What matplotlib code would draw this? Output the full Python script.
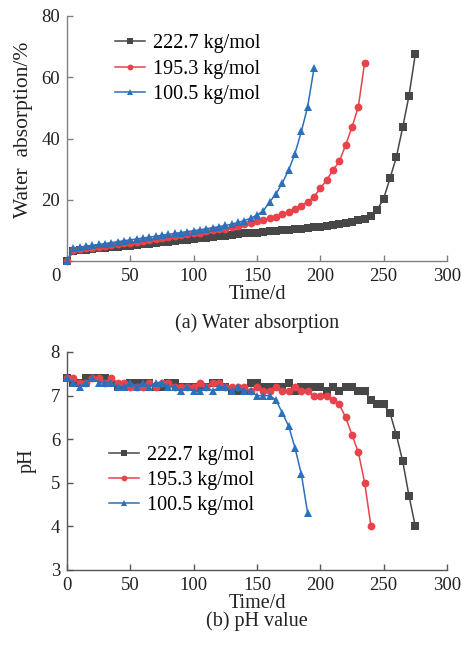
import matplotlib
matplotlib.use("Agg")
import matplotlib.pyplot as plt

plt.rcParams['font.family'] = ['Liberation Serif', 'DejaVu Serif']
plt.rcParams['mathtext.fontset'] = 'stix'

# ---------------- data ----------------
labels = ["222.7 kg/mol", "195.3 kg/mol", "100.5 kg/mol"]
colors = ["#474747", "#e8434b", "#2c6fbb"]
markers = ["s", "o", "^"]

# Water absorption (%)
t_w_222 = list(range(0, 280, 5))
w_222 = [0, 3.2, 3.5, 3.7, 3.9, 4.1, 4.3, 4.5, 4.7, 4.9,
         5.0, 5.2, 5.4, 5.7, 5.9, 6.1, 6.3, 6.5, 6.8, 7.0,
         7.2, 7.4, 7.6, 7.8, 8.1, 8.3, 8.6, 8.8, 9.0, 9.2,
         9.3, 9.5, 9.7, 9.9, 10.1, 10.2, 10.4, 10.6, 10.8, 11.0,
         11.2, 11.4, 11.7, 12.0, 12.4, 12.8, 13.3, 13.8, 14.8, 16.8,
         20.4, 27.0, 33.9, 43.6, 54.0, 67.6]

t_w_195 = list(range(0, 240, 5))
w_195 = [0, 3.6, 3.9, 4.2, 4.4, 4.7, 5.0, 5.2, 5.5, 5.8,
         6.0, 6.3, 6.6, 6.9, 7.2, 7.5, 7.8, 8.1, 8.4, 8.7,
         9.0, 9.3, 9.7, 10.0, 10.3, 10.6, 11.0, 11.4, 12.0, 12.5,
         13.1, 13.4, 13.9, 14.5, 15.2, 15.9, 17.0, 18.0, 19.4, 21.0,
         23.7, 26.5, 29.7, 32.5, 37.9, 43.7, 50.4, 64.8]

t_w_100 = list(range(0, 200, 5))
w_100 = [0, 4.2, 4.5, 4.8, 5.1, 5.4, 5.7, 6.0, 6.3, 6.6,
         6.9, 7.2, 7.5, 7.8, 8.1, 8.4, 8.7, 9.0, 9.3, 9.6,
         9.9, 10.2, 10.5, 10.9, 11.2, 11.6, 12.0, 12.6, 13.2, 14.0,
         15.0, 16.4, 19.3, 21.9, 25.5, 29.7, 35.1, 42.3, 50.4, 62.9]

# pH value
t_p_222 = list(range(0, 280, 5))
p_222 = [7.4, 7.3, 7.3, 7.4, 7.4, 7.4, 7.4, 7.3, 7.2, 7.2,
         7.3, 7.3, 7.3, 7.3, 7.2, 7.2, 7.3, 7.3, 7.2, 7.2,
         7.2, 7.2, 7.2, 7.3, 7.3, 7.2, 7.1, 7.1, 7.1, 7.3,
         7.3, 7.2, 7.2, 7.2, 7.2, 7.3, 7.1, 7.2, 7.2, 7.2,
         7.2, 7.1, 7.2, 7.1, 7.2, 7.2, 7.1, 7.1, 6.9, 6.8,
         6.8, 6.6, 6.1, 5.5, 4.7, 4.0]

t_p_195 = list(range(0, 245, 5))
p_195 = [7.4, 7.4, 7.3, 7.3, 7.4, 7.4, 7.3, 7.4, 7.3, 7.3,
         7.2, 7.2, 7.2, 7.3, 7.2, 7.3, 7.3, 7.2, 7.2, 7.2,
         7.2, 7.3, 7.2, 7.3, 7.3, 7.2, 7.2, 7.2, 7.2, 7.1,
         7.2, 7.1, 7.1, 7.2, 7.1, 7.1, 7.2, 7.1, 7.1, 7.0,
         7.0, 7.0, 6.9, 6.8, 6.5, 6.1, 5.7, 5.0, 4.0]

t_p_100 = list(range(0, 195, 5))
p_100 = [7.4, 7.3, 7.2, 7.3, 7.4, 7.3, 7.3, 7.3, 7.2, 7.2,
         7.3, 7.2, 7.3, 7.2, 7.3, 7.3, 7.2, 7.2, 7.1, 7.2,
         7.1, 7.1, 7.2, 7.1, 7.2, 7.2, 7.1, 7.2, 7.1, 7.1,
         7.0, 7.0, 7.0, 6.9, 6.6, 6.3, 5.8, 5.2, 4.3]

xticks = [0, 50, 100, 150, 200, 250, 300]
w_yticks = [0, 20, 40, 60, 80]
p_yticks = [3, 4, 5, 6, 7, 8]

# ---------------- figure ----------------
W, H = 462, 646
fig = plt.figure(figsize=(W / 100, H / 100), dpi=100)
FS_T = 13.5   # tick labels
FS = 14.5     # other text
txt_col = "#222222"

def style_axes(ax, spine_col):
    for s in ["top", "right"]:
        ax.spines[s].set_visible(False)
    for s in ["left", "bottom"]:
        ax.spines[s].set_color(spine_col)
        ax.spines[s].set_linewidth(1.0)
    ax.tick_params(direction="in", length=4, width=1.0, color=spine_col,
                   labelsize=FS_T, labelcolor=txt_col, pad=5)

msz = [6.0, 5.6, 6.0]
leg_kw = dict(loc="upper left", frameon=False, fontsize=FS, handlelength=1.5,
              handletextpad=0.4, labelspacing=0.3, markerscale=0.75,
              borderpad=0, borderaxespad=0)

# top panel
ax1 = fig.add_axes([67 / W, 1 - 261 / H, 380 / W, 245 / H])
ax1.set_xlim(0, 300)
ax1.set_ylim(0, 80)
series_w = [(t_w_222, w_222), (t_w_195, w_195), (t_w_100, w_100)]
for (t, v), lab, c, m, ms in zip(series_w, labels, colors, markers, msz):
    ax1.plot(t, v, color=c, marker=m, markersize=ms, lw=1.1, label=lab,
             markeredgewidth=0, clip_on=False, zorder=3)
ax1.set_xticks(xticks)
ax1.set_xticklabels([""] + [str(x) for x in xticks[1:]])
ax1.set_yticks(w_yticks)
ax1.set_yticklabels([""] + [str(y) for y in w_yticks[1:]])
style_axes(ax1, "#808080")
ax1.annotate("0", xy=(0, 0), xycoords="axes fraction", xytext=(-8, -5),
             textcoords="offset points", ha="center", va="top", fontsize=FS_T,
             color=txt_col)
ax1.set_xlabel("Time/d", fontsize=FS, color=txt_col, labelpad=0)
ax1.set_ylabel("Water  absorption/%", fontsize=15.5, color=txt_col)
ax1.yaxis.set_label_coords(-0.09, 0.535)
ax1.text(0.5, -0.255, "(a) Water absorption", transform=ax1.transAxes,
         ha="center", va="center", fontsize=FS, color=txt_col)
ax1.legend(bbox_to_anchor=(0.125, 0.925), **leg_kw)

# bottom panel
ax2 = fig.add_axes([67 / W, 1 - 570 / H, 380 / W, 218 / H])
ax2.set_xlim(0, 300)
ax2.set_ylim(3, 8)
series_p = [(t_p_222, p_222), (t_p_195, p_195), (t_p_100, p_100)]
for (t, v), lab, c, m, ms in zip(series_p, labels, colors, markers, msz):
    ax2.plot(t, v, color=c, marker=m, markersize=ms, lw=1.1, label=lab,
             markeredgewidth=0, clip_on=False, zorder=3)
ax2.set_xticks(xticks)
ax2.set_yticks(p_yticks)
style_axes(ax2, "#555555")
ax2.set_xlabel("Time/d", fontsize=FS, color=txt_col, labelpad=0)
ax2.set_ylabel("pH", fontsize=FS, color=txt_col, labelpad=10)
ax2.text(0.5, -0.235, "(b) pH value", transform=ax2.transAxes,
         ha="center", va="center", fontsize=FS, color=txt_col)
ax2.legend(bbox_to_anchor=(0.11, 0.57), **leg_kw)

fig.savefig("out.png", dpi=100)
